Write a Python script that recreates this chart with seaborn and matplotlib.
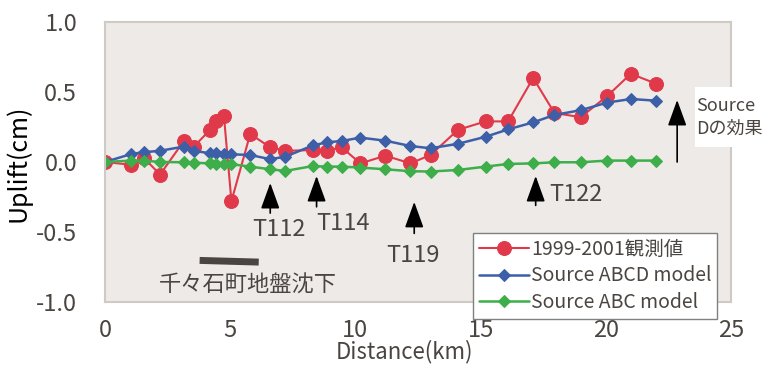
import numpy as np
import pandas as pd
import seaborn as sns
import matplotlib.pyplot as plt

# distance along the leveling route (km)
distance = [0, 1.05, 1.55, 2.2, 3.15, 3.55, 4.2, 4.45, 4.75, 5.05, 5.8, 6.6, 7.2,
            8.3, 8.85, 9.45, 10.2, 11.2, 12.2, 13.0, 14.1, 15.2, 16.1, 17.1,
            17.95, 19.0, 20.05, 21.0, 22.0]

# uplift (cm)
observed = [0.0, -0.02, 0.03, -0.09, 0.15, 0.11, 0.23, 0.29, 0.33, -0.28, 0.2,
            0.105, 0.08, 0.085, 0.08, 0.105, -0.01, 0.045, -0.01, 0.05, 0.23,
            0.29, 0.29, 0.6, 0.35, 0.32, 0.47, 0.63, 0.56]
abcd_model = [0.0, 0.057, 0.07, 0.08, 0.11, 0.08, 0.062, 0.062, 0.055, 0.055,
              0.05, 0.02, 0.038, 0.118, 0.14, 0.15, 0.174, 0.152, 0.114, 0.098,
              0.13, 0.18, 0.233, 0.283, 0.336, 0.37, 0.424, 0.45, 0.438]
abc_model = [0.0, 0.01, 0.01, 0.0, -0.002, -0.005, -0.01, -0.012, -0.016, -0.016,
             -0.033, -0.052, -0.064, -0.029, -0.033, -0.033, -0.04, -0.052,
             -0.066, -0.068, -0.057, -0.033, -0.014, -0.01, -0.002, -0.002,
             0.01, 0.01, 0.01]

labels = ["1999-2001観測値", "Source ABCD model", "Source ABC model"]

# benchmark arrows: (name, x, tip, tail, text x, text y)
benchmarks = [("T112", 6.6, -0.15, -0.365, 6.95, -0.48),
              ("T114", 8.45, -0.10, -0.32, 9.5, -0.44),
              ("T119", 12.35, -0.285, -0.51, 12.3, -0.67),
              ("T122", 17.2, -0.10, -0.31, 18.8, -0.235)]

txt = "#4a4540"
sns.set_theme(style="white")
plt.rcParams["font.family"] = ["Noto Sans CJK JP", "DejaVu Sans"]
plt.rcParams["axes.unicode_minus"] = False

df = pd.DataFrame({"d": distance, "obs": observed, "abcd": abcd_model, "abc": abc_model})

fig = plt.figure(figsize=(7.64, 3.69), dpi=100)
ax = fig.add_axes([0.1374, 0.1816, 0.8194, 0.7588])
ax.set_facecolor("#edeae7")

sns.lineplot(data=df, x="d", y="obs", sort=False, color="#e0394a", lw=1.5,
             marker="o", markersize=10, markeredgecolor="#e0394a", label=labels[0], ax=ax)
sns.lineplot(data=df, x="d", y="abcd", sort=False, color="#3c5fa8", lw=1.8,
             marker="D", markersize=6, markeredgecolor="#3c5fa8", label=labels[1], ax=ax)
sns.lineplot(data=df, x="d", y="abc", sort=False, color="#3dae4a", lw=1.8,
             marker="D", markersize=6, markeredgecolor="#3dae4a", label=labels[2], ax=ax)

ax.set_xlim(0, 25)
ax.set_ylim(-1, 1)
ax.set_xticks([0, 5, 10, 15, 20, 25])
ax.set_yticks([-1, -0.5, 0, 0.5, 1])
ax.set_yticklabels(["-1.0", "-0.5", "0.0", "0.5", "1.0"])
ax.tick_params(axis="x", length=0, pad=12, labelsize=17, labelcolor=txt)
ax.tick_params(axis="y", length=0, pad=20, labelsize=17, labelcolor=txt)
for s in ax.spines.values():
    s.set_color("#cfcac4")
    s.set_linewidth(1.5)

ax.set_xlabel("Distance(km)", fontsize=16, color=txt)
ax.xaxis.set_label_coords(0.478, -0.135)
ax.set_ylabel("Uplift(cm)", fontsize=18, color="black")
ax.yaxis.set_label_coords(-0.118, 0.496)

head = dict(arrowstyle="-|>,head_length=1.6,head_width=0.58", color="black",
            lw=1.2, shrinkA=0, shrinkB=0, mutation_scale=10)
for name, x, tip, tail, tx, ty in benchmarks:
    ax.annotate("", xy=(x, tip), xytext=(x, tail), arrowprops=head)
    ax.text(tx, ty, name, fontsize=17, color=txt, ha="center", va="center")

# Source D effect (white label box sits over the right frame edge)
ax.annotate("", xy=(22.85, 0.443), xytext=(22.85, 0.0), arrowprops=head)
ax.add_patch(plt.Rectangle((0.9425, 0.5536), 0.1085, 0.2144, transform=ax.transAxes,
                           facecolor="white", edgecolor="none", clip_on=False, zorder=3))
ax.text(23.6, 0.32, "Source\nDの効果", fontsize=13, color=txt, ha="left", va="center",
        linespacing=1.35, clip_on=False, zorder=4)

# subsidence section
ax.plot([3.78, 6.14], [-0.703, -0.715], color=txt, lw=5, solid_capstyle="butt")
ax.text(5.7, -0.88, "千々石町地盤沈下", fontsize=16, color=txt, ha="center", va="center")

ax.get_legend().remove()
h, l = ax.get_legend_handles_labels()
leg = fig.legend(h, l, loc="upper left", bbox_to_anchor=(0.6187, 0.3694),
                 borderaxespad=0, fontsize=14, frameon=True, fancybox=False,
                 edgecolor="#808080", framealpha=1, handlelength=2.6,
                 handletextpad=0.1, labelspacing=0.3, borderpad=0.3)
leg.get_frame().set_linewidth(1.0)
for t in leg.get_texts():
    t.set_color(txt)

fig.savefig("out.png", dpi=100)
